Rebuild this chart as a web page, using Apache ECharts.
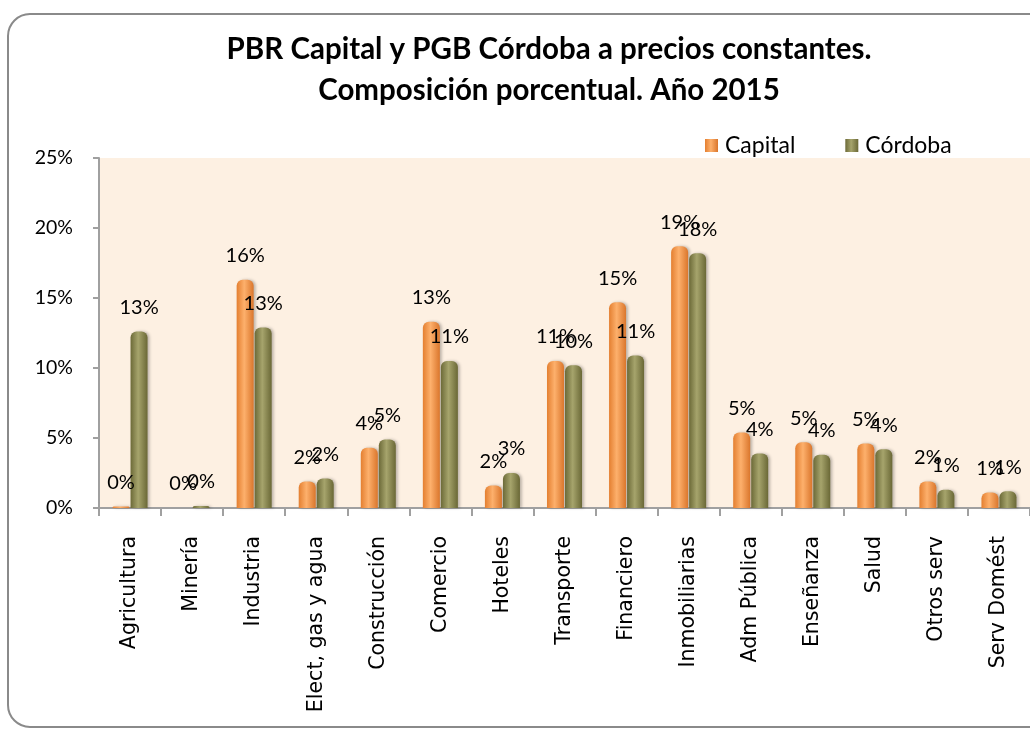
<!DOCTYPE html>
<html>
<head>
<meta charset="utf-8">
<script src="https://cdn.jsdelivr.net/npm/echarts@6/dist/echarts.min.js"></script>
<style>
  html, body { margin: 0; padding: 0; background: #ffffff; }
  #chart { width: 1030px; height: 729px; }
</style>
</head>
<body>
<div id="chart"></div>
<script>
const categories = ['Agricultura', 'Minería', 'Industria', 'Elect, gas y agua', 'Construcción', 'Comercio', 'Hoteles', 'Transporte', 'Financiero', 'Inmobiliarias', 'Adm Pública', 'Enseñanza', 'Salud', 'Otros serv', 'Serv Domést'];
const capital = [0.1, 0.0, 16.3, 1.9, 4.3, 13.3, 1.6, 10.5, 14.7, 18.7, 5.4, 4.7, 4.6, 1.9, 1.1];
const cordoba = [12.6, 0.15, 12.9, 2.1, 4.9, 10.5, 2.5, 10.2, 10.9, 18.2, 3.9, 3.8, 4.2, 1.3, 1.2];
const seriesNames = ['Capital', 'Córdoba'];
const titleText = 'PBR Capital y PGB Córdoba a precios constantes.\nComposición porcentual. Año 2015';
const yTicks = { min: 0, max: 25, interval: 5 };

const FONT = 'Lato, "Open Sans", sans-serif';
const chart = echarts.init(document.getElementById('chart'), null, { renderer: 'canvas' });

function cyl(left, mid, right) {
  return new echarts.graphic.LinearGradient(0, 0, 1, 0, [
    { offset: 0, color: left },
    { offset: 0.45, color: mid },
    { offset: 1, color: right }
  ]);
}

const labelCfg = {
  show: true,
  position: 'top',
  distance: 14,
  color: '#000',
  fontFamily: FONT,
  fontSize: 20,
  formatter: p => Math.round(p.value) + '%'
};

chart.setOption({
  animation: false,
  backgroundColor: '#ffffff',
  graphic: [
    {
      type: 'rect',
      z: -10,
      shape: { x: 8, y: 14, width: 1100, height: 713, r: 22 },
      style: { fill: '#ffffff', stroke: '#8a8a8a', lineWidth: 2 }
    }
  ],
  title: {
    text: titleText,
    left: 544,
    top: 24,
    textAlign: 'center',
    textStyle: { fontFamily: FONT, fontWeight: 'bold', fontSize: 29.5, lineHeight: 41, color: '#000' }
  },
  legend: {
    left: 700,
    top: 129,
    itemWidth: 13,
    itemHeight: 13,
    itemGap: 50,
    icon: 'rect',
    textStyle: { fontFamily: FONT, fontSize: 23, color: '#000', padding: [0, 0, 0, 2] },
    data: seriesNames
  },
  grid: {
    left: 99,
    right: -4,
    top: 158,
    bottom: 221,
    show: true,
    backgroundColor: '#fdf0e2',
    borderWidth: 0
  },
  xAxis: {
    type: 'category',
    data: categories,
    axisLine: { show: true, lineStyle: { color: '#a0a0a0', width: 2 } },
    axisTick: { show: true, length: 8, lineStyle: { color: '#a0a0a0', width: 2 } },
    axisLabel: {
      rotate: 90,
      interval: 0,
      margin: 28,
      color: '#000',
      fontFamily: '"DejaVu Sans", sans-serif',
      fontSize: 20.5
    }
  },
  yAxis: {
    type: 'value',
    min: yTicks.min,
    max: yTicks.max,
    interval: yTicks.interval,
    splitLine: { show: false },
    axisLine: { show: true, lineStyle: { color: '#a0a0a0', width: 2 } },
    axisTick: { show: true, length: 6, lineStyle: { color: '#a0a0a0', width: 2 } },
    axisLabel: {
      formatter: '{value}%',
      margin: 26,
      color: '#000',
      fontFamily: FONT,
      fontSize: 19.5
    }
  },
  series: [
    {
      name: seriesNames[0],
      type: 'bar',
      data: capital,
      barWidth: 17,
      barGap: '6%',
      itemStyle: {
        color: cyl('#e47f30', '#fdb06c', '#da762c'),
        borderRadius: [6, 6, 0, 0],
        shadowColor: 'rgba(0,0,0,0.25)',
        shadowBlur: 3,
        shadowOffsetX: 2
      },
      label: labelCfg
    },
    {
      name: seriesNames[1],
      type: 'bar',
      data: cordoba,
      barWidth: 17,
      itemStyle: {
        color: cyl('#6c6a38', '#a6a46c', '#6a6836'),
        borderRadius: [6, 6, 0, 0],
        shadowColor: 'rgba(0,0,0,0.25)',
        shadowBlur: 3,
        shadowOffsetX: 2
      },
      label: labelCfg
    }
  ]
});
</script>
</body>
</html>
